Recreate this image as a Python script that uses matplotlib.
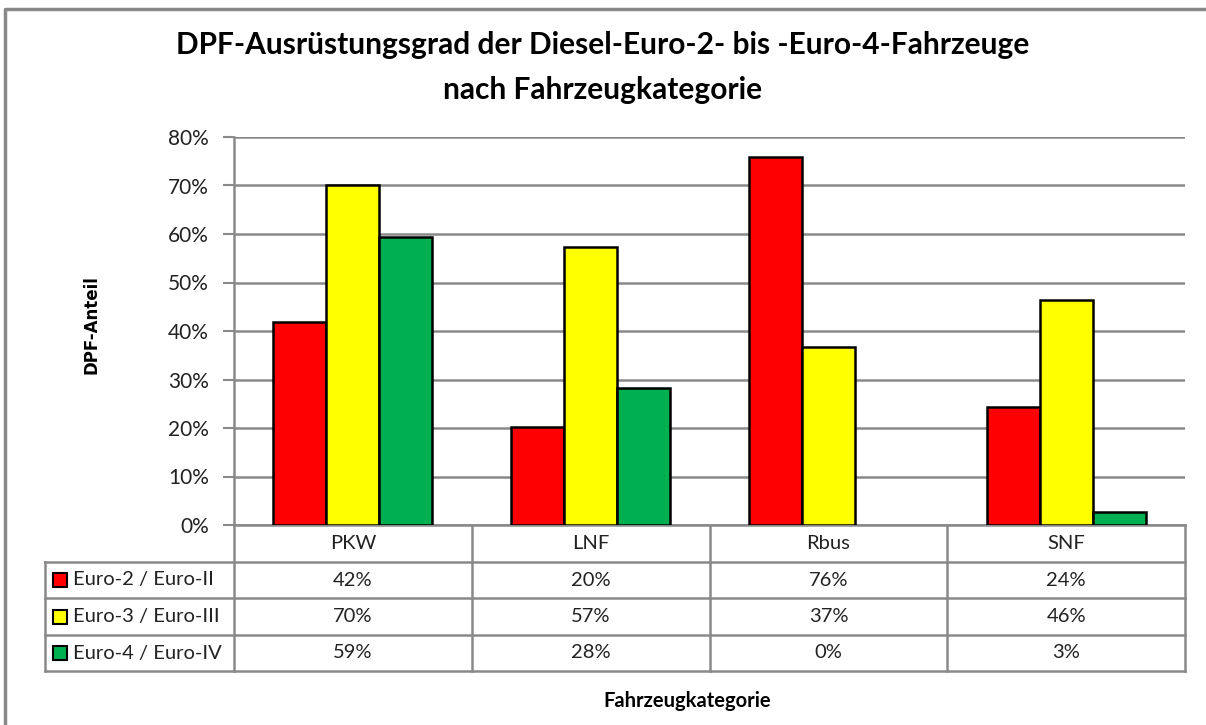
import matplotlib.pyplot as plt
from matplotlib.patches import Rectangle
from matplotlib.transforms import blended_transform_factory

categories = ["PKW", "LNF", "Rbus", "SNF"]
series_names = ["Euro-2 / Euro-II", "Euro-3 / Euro-III", "Euro-4 / Euro-IV"]
euro2 = [41.9, 20.3, 75.8, 24.3]
euro3 = [70.2, 57.4, 36.8, 46.4]
euro4 = [59.4, 28.2, 0.0, 2.7]
series_values = [euro2, euro3, euro4]
colors = ["#ff0000", "#ffff00", "#00b050"]
y_ticks = [0, 10, 20, 30, 40, 50, 60, 70, 80]

W, H = 1206, 725
grey = "#898989"
font = ["Lato", "DejaVu Sans"]

fig = plt.figure(figsize=(W / 100, H / 100), dpi=100)

# overlay in pixel coordinates for frame, table lines and texts
ov = fig.add_axes([0, 0, 1, 1])
ov.set_xlim(0, W)
ov.set_ylim(H, 0)
ov.axis("off")
ov.plot([5, 5, W], [H, 9, 9], color=grey, linewidth=2.5)

# plot area
x0, x1, y_top, y_bot = 234, 1185, 137, 525
ax = fig.add_axes([x0 / W, 1 - y_bot / H, (x1 - x0) / W, (y_bot - y_top) / H])
ax.set_xlim(-0.5, len(categories) - 0.5)
ax.set_ylim(0, 80)
ax.set_yticks(y_ticks)
ax.set_yticklabels([f"{t}%" for t in y_ticks], family=font, fontsize=15, color="#222222")
ax.set_xticks([])
ax.tick_params(axis="y", length=8, width=1.5, color=grey, pad=10)
for side in ["top", "right"]:
    ax.spines[side].set_visible(False)
for side in ["left", "bottom"]:
    ax.spines[side].set_color(grey)
    ax.spines[side].set_linewidth(1.8)
ax.grid(axis="y", color=grey, linewidth=1.8)
ax.set_axisbelow(True)

bar_w = 0.223
for i, vals in enumerate(series_values):
    xs = [c + (i - 1) * bar_w for c in range(len(categories))]
    # zero-height bars are not drawn at all in the original
    widths = [1.8 if v > 0 else 0 for v in vals]
    ax.bar(xs, vals, width=bar_w, color=colors[i], edgecolor="black", linewidth=widths, zorder=3)

# data table
tr = blended_transform_factory(ax.transData, ov.transData)
row_y = [525, 562, 598, 635, 671]
for r in row_y[1:]:
    ov.plot([45, x1], [r, r], color=grey, linewidth=1.8, solid_capstyle="projecting")
ov.plot([45, 45], [row_y[1], row_y[-1]], color=grey, linewidth=1.8)
for b in range(len(categories) + 1):
    ov.plot([b - 0.5, b - 0.5], [row_y[0], row_y[-1]], color=grey, linewidth=1.8, transform=tr)

for c, cat in enumerate(categories):
    ov.text(c, (row_y[0] + row_y[1]) / 2, cat, transform=tr, ha="center", va="center",
            family=font, fontsize=14.5, color="#222222")
    for i, vals in enumerate(series_values):
        ov.text(c, (row_y[i + 1] + row_y[i + 2]) / 2, f"{round(vals[c])}%", transform=tr,
                ha="center", va="center", family=font, fontsize=14.5, color="#222222")

for i, name in enumerate(series_names):
    yc = (row_y[i + 1] + row_y[i + 2]) / 2
    ov.add_patch(Rectangle((53, yc - 7), 14, 14, facecolor=colors[i], edgecolor="black", linewidth=1.5))
    ov.text(73, yc, name, ha="left", va="center", family=font, fontsize=14.5, color="#222222")

# titles and axis labels
ov.text(603, 45, "DPF-Ausrüstungsgrad der Diesel-Euro-2- bis -Euro-4-Fahrzeuge",
        ha="center", va="center", family=font, fontsize=21.5, fontweight="bold")
ov.text(603, 90, "nach Fahrzeugkategorie", ha="center", va="center",
        family=font, fontsize=21.5, fontweight="bold")
ov.text(91, 325, "DPF-Anteil", ha="center", va="center", rotation=90,
        family="DejaVu Sans", fontsize=12, fontweight="bold")
ov.text(687, 701, "Fahrzeugkategorie", ha="center", va="center",
        family=font, fontsize=14.5, fontweight="bold")

fig.savefig("out.png", dpi=100)
